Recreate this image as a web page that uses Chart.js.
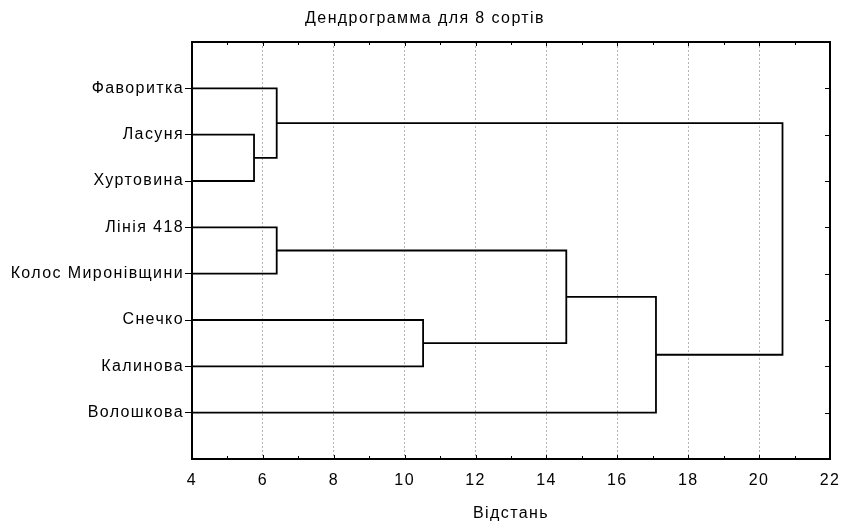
<!DOCTYPE html>
<html lang="en">
<head>
    <meta charset="UTF-8">
    <title>Дендрограмма</title>
    <script src="https://cdn.jsdelivr.net/npm/chart.js"></script>
    <style>
        html, body { margin: 0; padding: 0; background: #fff; }
        #wrap { width: 842px; height: 523px; }
    </style>
</head>
<body>
    <div id="wrap">
        <canvas id="dendro"></canvas>
    </div>

    <script>
        // leaves, top to bottom
        const leafNames = ['Фаворитка', 'Ласуня', 'Хуртовина', 'Лінія 418', 'Колос Миронівщини', 'Снечко', 'Калинова', 'Волошкова'];
        // merges (nodes 8.. in order), children by id, linkage distance
        const mergeLeft = [1, 0, 3, 5, 10, 12, 9];
        const mergeRight = [2, 8, 4, 6, 11, 7, 13];
        const mergeDist = [5.75, 6.39, 6.39, 10.52, 14.56, 17.09, 20.66];
        const xTicks = [4, 6, 8, 10, 12, 14, 16, 18, 20, 22];

        const FONT = 'Liberation Sans, Arial, sans-serif';
        const SPACING = '1.4px';
        const xMin = 4;

        // positions of every node
        const pos = leafNames.map((n, i) => i + 1);
        const height = leafNames.map(() => xMin);
        const datasets = [];
        mergeDist.forEach((d, k) => {
            const a = mergeLeft[k], b = mergeRight[k];
            datasets.push({
                data: [
                    { x: height[a], y: pos[a] },
                    { x: d, y: pos[a] },
                    { x: d, y: pos[b] },
                    { x: height[b], y: pos[b] }
                ],
                showLine: true,
                borderColor: '#000',
                borderWidth: 1.8,
                pointRadius: 0,
                fill: false,
                tension: 0
            });
            pos.push((pos[a] + pos[b]) / 2);
            height.push(d);
        });

        // wider text like the original (canvas state is reset on resize)
        const spacingPlugin = {
            id: 'spacing',
            beforeUpdate(chart) { chart.ctx.letterSpacing = SPACING; },
            beforeLayout(chart) { chart.ctx.letterSpacing = SPACING; },
            beforeDraw(chart) { chart.ctx.letterSpacing = SPACING; }
        };

        // frame, inner ticks and title
        const framePlugin = {
            id: 'frame',
            afterDraw(chart) {
                const ctx = chart.ctx;
                const a = chart.chartArea;
                const xs = chart.scales.x, ys = chart.scales.y;
                ctx.save();
                ctx.strokeStyle = '#000';
                ctx.lineWidth = 1;
                ctx.beginPath();
                for (let v = 4; v <= 22; v++) {
                    const px = Math.round(xs.getPixelForValue(v)) + 0.5;
                    const len = v % 2 === 0 ? 4 : 3;
                    ctx.moveTo(px, a.top); ctx.lineTo(px, a.top + len);
                    ctx.moveTo(px, a.bottom); ctx.lineTo(px, a.bottom - len);
                }
                for (let i = 1; i <= leafNames.length; i++) {
                    const py = Math.round(ys.getPixelForValue(i)) + 0.5;
                    ctx.moveTo(a.right, py); ctx.lineTo(a.right - 5, py);
                }
                ctx.stroke();
                ctx.lineWidth = 2;
                ctx.strokeRect(a.left, a.top, a.right - a.left, a.bottom - a.top);

                ctx.fillStyle = '#000';
                ctx.letterSpacing = SPACING;
                ctx.font = '16px ' + FONT;
                ctx.textAlign = 'center';
                ctx.textBaseline = 'middle';
                ctx.fillText('Дендрограмма для 8 сортів', 425, 19);
                ctx.restore();
            }
        };

        const ctx = document.getElementById('dendro').getContext('2d');
        new Chart(ctx, {
            type: 'scatter',
            data: { datasets: datasets },
            options: {
                responsive: true,
                maintainAspectRatio: false,
                animation: false,
                layout: { padding: { left: 0, right: 12, top: 42, bottom: 0 } },
                plugins: {
                    legend: { display: false },
                    tooltip: { enabled: false },
                    title: { display: false }
                },
                scales: {
                    x: {
                        type: 'linear',
                        min: 4,
                        max: 22,
                        afterBuildTicks: s => { s.ticks = xTicks.map(v => ({ value: v })); },
                        afterFit: s => { s.height = 64; s.paddingLeft = 0; s.paddingRight = 0; },
                        grid: {
                            color: '#b4b4b4',
                            lineWidth: 1,
                            drawTicks: false
                        },
                        border: { display: false, dash: [2, 2] },
                        ticks: {
                            color: '#000',
                            padding: 12,
                            maxRotation: 0,
                            font: { family: FONT, size: 16 }
                        },
                        title: {
                            display: true,
                            text: 'Відстань',
                            color: '#000',
                            padding: { top: 6, bottom: 0 },
                            font: { family: FONT, size: 16 }
                        }
                    },
                    y: {
                        type: 'linear',
                        min: 0,
                        max: 9,
                        reverse: true,
                        afterBuildTicks: s => { s.ticks = leafNames.map((n, i) => ({ value: i + 1 })); },
                        afterFit: s => { s.width = 192; },
                        grid: {
                            drawOnChartArea: false,
                            drawTicks: true,
                            tickLength: 7,
                            tickColor: '#000',
                            tickWidth: 1
                        },
                        border: { display: false },
                        ticks: {
                            color: '#000',
                            padding: 1,
                            font: { family: FONT, size: 16 },
                            callback: v => leafNames[v - 1]
                        }
                    }
                }
            },
            plugins: [spacingPlugin, framePlugin]
        });
    </script>
</body>
</html>
